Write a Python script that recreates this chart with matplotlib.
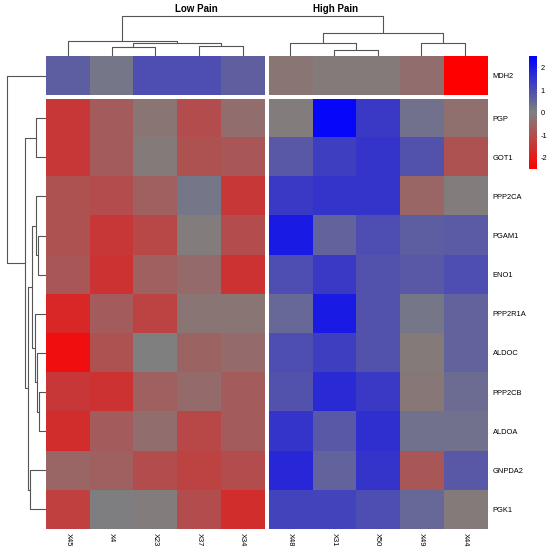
import numpy as np
import matplotlib
matplotlib.use("Agg")
import matplotlib.pyplot as plt
from matplotlib.colors import LinearSegmentedColormap, Normalize

plt.rcParams['font.family'] = ['Liberation Sans', 'DejaVu Sans']

# ---------------- data ----------------
samples = ["X45", "X4", "X23", "X37", "X34", "X48", "X31", "X50", "X49", "X44"]
genes = ["MDH2", "PGP", "GOT1", "PPP2CA", "PGAM1", "ENO1", "PPP2R1A",
         "ALDOC", "PPP2CB", "ALDOA", "GNPDA2", "PGK1"]
group_titles = ["Low Pain", "High Pain"]

MDH2 =    [0.7, 0.2, 1.0, 1.0, 0.65, -0.2, -0.1, -0.1, -0.35, -2.5]
PGP =     [-1.4, -0.7, -0.2, -1.0, -0.35, -0.05, 2.4, 1.4, 0.3, -0.3]
GOT1 =    [-1.4, -0.7, -0.1, -0.9, -0.8, 0.8, 1.3, 1.5, 0.9, -0.9]
PPP2CA =  [-0.9, -1.0, -0.6, 0.2, -1.4, 1.4, 1.5, 1.5, -0.5, -0.05]
PGAM1 =   [-0.9, -1.4, -1.1, -0.05, -1.0, 2.0, 0.6, 1.0, 0.7, 0.75]
ENO1 =    [-0.8, -1.5, -0.6, -0.4, -1.5, 1.0, 1.4, 0.9, 0.8, 1.0]
PPP2R1A = [-1.75, -0.7, -1.2, -0.2, -0.2, 0.5, 2.0, 0.9, 0.2, 0.6]
ALDOC =   [-2.2, -0.9, 0.0, -0.55, -0.4, 1.0, 1.3, 0.9, -0.1, 0.6]
PPP2CB =  [-1.4, -1.5, -0.6, -0.4, -0.7, 0.9, 1.7, 1.4, -0.15, 0.4]
ALDOA =   [-1.6, -0.7, -0.35, -1.1, -0.7, 1.5, 0.8, 1.6, 0.3, 0.3]
GNPDA2 =  [-0.5, -0.6, -1.0, -1.2, -1.0, 1.75, 0.6, 1.5, -0.8, 0.8]
PGK1 =    [-1.25, 0.05, -0.05, -1.0, -1.6, 1.2, 1.2, 1.0, 0.5, -0.1]

values = np.array([MDH2, PGP, GOT1, PPP2CA, PGAM1, ENO1, PPP2R1A,
                   ALDOC, PPP2CB, ALDOA, GNPDA2, PGK1])

# dendrogram merges: (child_a, child_b, height)
row_tree = {
    "A": ("PGP", "GOT1", 10.0),
    "D": ("PGAM1", "ENO1", 8.0),
    "C": ("PPP2CA", "D", 10.0),
    "F": ("PPP2CB", "ALDOA", 7.3),
    "G": ("ALDOC", "F", 9.0),
    "H": ("PPP2R1A", "G", 10.7),
    "M": ("C", "H", 13.8),
    "J": ("GNPDA2", "PGK1", 15.7),
    "K": ("M", "J", 18.3),
    "B": ("A", "K", 20.7),
    "root": ("MDH2", "B", 39.3),
}
col_tree = {
    "L3": ("X4", "X23", 8.7),
    "L4": ("X37", "X34", 10.3),
    "L2": ("L3", "L4", 12.7),
    "L1": ("X45", "L2", 15.3),
    "R4": ("X31", "X50", 6.0),
    "R2": ("X48", "R4", 13.3),
    "R3": ("X49", "X44", 12.8),
    "R1": ("R2", "R3", 22.7),
    "root": ("L1", "R1", 40.0),
}

vmin, vmax = -2.5, 2.53
cbar_ticks = [-2, -1, 0, 1, 2]

# ---------------- layout (pixels) ----------------
W, H = 550, 553
fig = plt.figure(figsize=(W / 100, H / 100), dpi=100)

def ax_px(x0, y0, x1, y1):
    return fig.add_axes([x0 / W, 1 - y1 / H, (x1 - x0) / W, (y1 - y0) / H])

hx0, hgap, hx1 = 46, 4, 487
hy0, vgap, hy1 = 56, 3.5, 529
ncol_left = 5
nrow_top = 1
ncols, nrows = len(samples), len(genes)
cw = (hx1 - hx0 - hgap) / ncols
rh = (hy1 - hy0 - vgap) / nrows

def col_x(j):
    return hx0 + cw * (j + 0.5) + (hgap if j >= ncol_left else 0)

def row_y(i):
    return hy0 + rh * (i + 0.5) + (vgap if i >= nrow_top else 0)

cmap = LinearSegmentedColormap.from_list("rgb", ["#FF0000", "#808080", "#0000FF"])
norm = Normalize(vmin=vmin, vmax=vmax)

blocks = [
    (slice(0, nrow_top), slice(0, ncol_left)),
    (slice(0, nrow_top), slice(ncol_left, ncols)),
    (slice(nrow_top, nrows), slice(0, ncol_left)),
    (slice(nrow_top, nrows), slice(ncol_left, ncols)),
]
for rs, cs in blocks:
    x0 = col_x(cs.start) - cw / 2
    x1 = col_x(cs.stop - 1) + cw / 2
    y0 = row_y(rs.start) - rh / 2
    y1 = row_y(rs.stop - 1) + rh / 2
    ax = ax_px(x0, y0, x1, y1)
    ax.imshow(values[rs, cs], cmap=cmap, norm=norm, aspect="auto",
              interpolation="nearest")
    ax.set_xticks([])
    ax.set_yticks([])
    for s in ax.spines.values():
        s.set_visible(False)
    if rs.stop == nrows:
        ax.set_xticks(range(cs.stop - cs.start))
        ax.set_xticklabels(samples[cs], rotation=270, fontsize=5.4)
        ax.tick_params(axis="x", length=0, pad=3)
    if cs.stop == ncols:
        ax.yaxis.tick_right()
        ax.set_yticks(range(rs.stop - rs.start))
        ax.set_yticklabels(genes[rs], fontsize=5.4)
        ax.tick_params(axis="y", length=0, pad=4)

# ---------------- dendrograms ----------------
line_kw = dict(color="#555555", lw=0.8, solid_capstyle="butt")

def draw_tree(ax, tree, leaf_pos, horizontal):
    pos = dict(leaf_pos)
    hgt = {k: 0.0 for k in leaf_pos}
    def place(node):
        if node in pos:
            return pos[node], hgt[node]
        a, b, h = tree[node]
        pa, ha = place(a)
        pb, hb = place(b)
        if horizontal:  # heights on x axis
            ax.plot([ha, h, h, hb], [pa, pa, pb, pb], **line_kw)
        else:
            ax.plot([pa, pa, pb, pb], [ha, h, h, hb], **line_kw)
        pos[node] = (pa + pb) / 2
        hgt[node] = h
        return pos[node], h
    place("root")

# row dendrogram (left)
rax = ax_px(0, hy0, hx0, hy1)
draw_tree(rax, row_tree, {g: row_y(i) for i, g in enumerate(genes)}, True)
rax.set_xlim(hx0, 0)
rax.set_ylim(hy1, hy0)
rax.axis("off")

# column dendrogram (top)
cax_top = ax_px(hx0, 0, hx1, hy0)
draw_tree(cax_top, col_tree, {s: col_x(j) for j, s in enumerate(samples)}, False)
cax_top.set_xlim(hx0, hx1)
cax_top.set_ylim(0, hy0)
cax_top.axis("off")

# group titles
fig.text(196 / W, 1 - 9.5 / H, group_titles[0], ha="center", va="center",
         fontsize=7, fontweight="bold")
fig.text(336 / W, 1 - 9.5 / H, group_titles[1], ha="center", va="center",
         fontsize=7, fontweight="bold")

# ---------------- colorbar ----------------
cbax = ax_px(529, 56, 536.5, 169)
sm = plt.cm.ScalarMappable(cmap=cmap, norm=norm)
cb = fig.colorbar(sm, cax=cbax, ticks=cbar_ticks)
cb.outline.set_visible(False)
cb.ax.tick_params(length=0, labelsize=5.4, pad=3)
cb.ax.set_yticklabels([str(t).replace("\u2212", "-") for t in cbar_ticks])

fig.savefig("out.png", dpi=100, facecolor="white")
